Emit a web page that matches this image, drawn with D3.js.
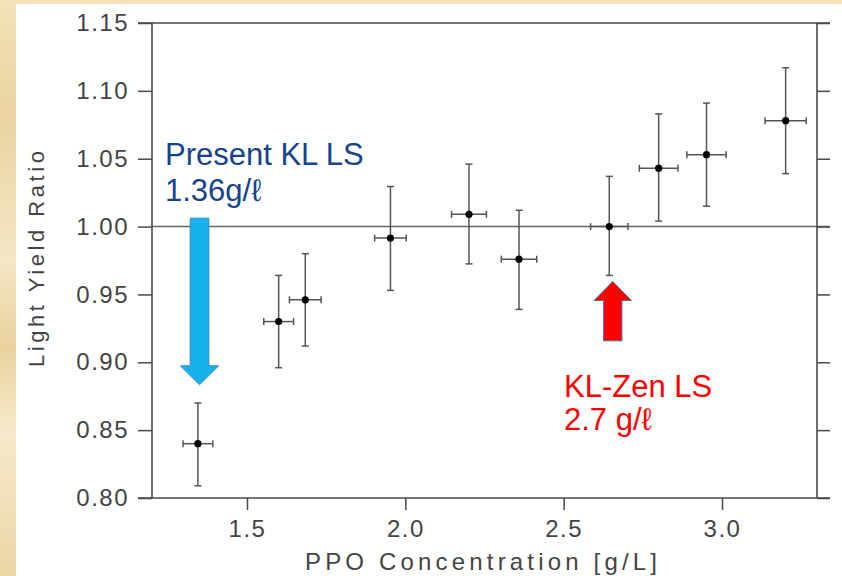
<!DOCTYPE html>
<html>
<head>
<meta charset="utf-8">
<script src="https://cdn.jsdelivr.net/npm/d3@7"></script>
<style>
  html, body { margin: 0; padding: 0; background: #efdcb0; }
  svg { display: block; }
</style>
</head>
<body>
<svg id="chart" width="842" height="576"></svg>
<script>
// ---------- data ----------
const ppo      = [1.345, 1.600, 1.684, 1.953, 2.201, 2.359, 2.644, 2.800, 2.951, 3.201];
const ratio    = [0.840, 0.930, 0.946, 0.9915, 1.009, 0.976, 1.000, 1.043, 1.053, 1.078];
const ratioHi  = [0.870, 0.964, 0.980, 1.0295, 1.046, 1.012, 1.037, 1.083, 1.091, 1.117];
const ratioLo  = [0.809, 0.896, 0.912, 0.953, 0.9725, 0.939, 0.964, 1.004, 1.015, 1.039];
const ppoErr   = [0.047, 0.047, 0.050, 0.050, 0.055, 0.056, 0.059, 0.061, 0.062, 0.065];
const yTicks   = [0.80, 0.85, 0.90, 0.95, 1.00, 1.05, 1.10, 1.15];
const xTicks   = [1.5, 2.0, 2.5, 3.0];
const refLine  = 1.00;
const xTitle   = "PPO Concentration [g/L]";
const yTitle   = "Light Yield Ratio";
const blueNote = ["Present KL LS", "1.36g/ℓ"];
const redNote  = ["KL-Zen LS", "2.7 g/ℓ"];
const blueArrow = {x: 1.35, top: 1.0062, headBase: 0.8974, tip: 0.8834};
const redArrow  = {x: 2.655, bottom: 0.9158, headBase: 0.9455, tip: 0.9595};

// ---------- layout ----------
const svg = d3.select("#chart");
const L = 152, R = 817, T = 23, B = 498;
const x = d3.scaleLinear().domain([1.2, 3.3]).range([L, R]);
const y = d3.scaleLinear().domain([0.80, 1.15]).range([B, T]);

// background
const defs = svg.append("defs");
const g1 = defs.append("linearGradient").attr("id", "parch").attr("x1", 0).attr("y1", 0).attr("x2", 0).attr("y2", 1);
[[0, "#f3e2b8"], [0.2, "#ead3a0"], [0.45, "#f4e6c6"], [0.6, "#e9d29d"], [0.75, "#f6e9cb"], [1, "#ecd6a6"]]
  .forEach(([o, c]) => g1.append("stop").attr("offset", o).attr("stop-color", c));
svg.append("rect").attr("width", 842).attr("height", 576).attr("fill", "url(#parch)");
svg.append("rect").attr("x", 16).attr("y", 4).attr("width", 826).attr("height", 572).attr("fill", "#ffffff");

const axisColor = "#4a4a4a";
const textColor = "#444444";
const fontAxis = "'Liberation Sans', Arial, sans-serif";

// reference line at 1.00
svg.append("line")
  .attr("x1", L).attr("x2", R + 13)
  .attr("y1", y(refLine)).attr("y2", y(refLine))
  .attr("stroke", "#666").attr("stroke-width", 1.6);

// axes
const styleAxis = (sel) => {
  sel.select(".domain").remove();
  sel.selectAll(".tick line").attr("stroke", axisColor).attr("stroke-width", 1.5);
  sel.selectAll(".tick text")
    .attr("fill", textColor)
    .style("font-family", fontAxis)
    .style("font-size", "24px")
    .style("letter-spacing", "1.5px");
};

svg.append("g").attr("transform", `translate(${L},0)`)
  .call(d3.axisLeft(y).tickValues(yTicks).tickSize(14).tickSizeOuter(0).tickPadding(9).tickFormat(d3.format(".2f")))
  .call(styleAxis);

svg.append("g").attr("transform", `translate(${R},0)`)
  .call(d3.axisRight(y).tickValues(yTicks).tickSize(13).tickSizeOuter(0).tickFormat(""))
  .call(styleAxis);

svg.append("g").attr("transform", `translate(0,${B})`)
  .call(d3.axisBottom(x).tickValues(xTicks).tickSize(12).tickSizeOuter(0).tickPadding(10).tickFormat(d3.format(".1f")))
  .call(styleAxis);

// frame
const frame = svg.append("g").attr("stroke", axisColor).attr("stroke-width", 1.6);
frame.append("line").attr("x1", L - 14).attr("x2", R + 13).attr("y1", T).attr("y2", T);
frame.append("line").attr("x1", L - 14).attr("x2", R + 13).attr("y1", B).attr("y2", B);
frame.append("line").attr("x1", L).attr("x2", L).attr("y1", T).attr("y2", B);
frame.append("line").attr("x1", R).attr("x2", R).attr("y1", T).attr("y2", B);

// axis titles
svg.append("text")
  .attr("x", 305).attr("y", 570)
  .attr("textLength", 352).attr("lengthAdjust", "spacing")
  .attr("fill", textColor)
  .style("font-family", fontAxis).style("font-size", "24px")
  .text(xTitle);

svg.append("text")
  .attr("transform", `translate(44,367) rotate(-90)`)
  .attr("textLength", 216).attr("lengthAdjust", "spacing")
  .attr("fill", textColor)
  .style("font-family", fontAxis).style("font-size", "22px")
  .text(yTitle);

// data with error bars
const data = ppo.map((v, i) => ({x: v, y: ratio[i], hi: ratioHi[i], lo: ratioLo[i], xe: ppoErr[i]}));
const eb = svg.append("g").attr("stroke", "#555").attr("stroke-width", 1.5).attr("fill", "none");
const cap = 3.5;
data.forEach(d => {
  const g = eb.append("g");
  g.append("line").attr("x1", x(d.x)).attr("x2", x(d.x)).attr("y1", y(d.hi)).attr("y2", y(d.lo));
  g.append("line").attr("x1", x(d.x) - cap).attr("x2", x(d.x) + cap).attr("y1", y(d.hi)).attr("y2", y(d.hi));
  g.append("line").attr("x1", x(d.x) - cap).attr("x2", x(d.x) + cap).attr("y1", y(d.lo)).attr("y2", y(d.lo));
  g.append("line").attr("x1", x(d.x - d.xe)).attr("x2", x(d.x + d.xe)).attr("y1", y(d.y)).attr("y2", y(d.y));
  g.append("line").attr("x1", x(d.x - d.xe)).attr("x2", x(d.x - d.xe)).attr("y1", y(d.y) - cap).attr("y2", y(d.y) + cap);
  g.append("line").attr("x1", x(d.x + d.xe)).attr("x2", x(d.x + d.xe)).attr("y1", y(d.y) - cap).attr("y2", y(d.y) + cap);
});
svg.append("g").selectAll("circle").data(data).join("circle")
  .attr("cx", d => x(d.x)).attr("cy", d => y(d.y)).attr("r", 3.6).attr("fill", "#000");

// arrows
function arrowPath(cx, tail, headBase, tip, shaftW, headW) {
  return d3.line()([
    [cx - shaftW / 2, tail], [cx + shaftW / 2, tail],
    [cx + shaftW / 2, headBase], [cx + headW / 2, headBase],
    [cx, tip],
    [cx - headW / 2, headBase], [cx - shaftW / 2, headBase]
  ]) + "Z";
}
svg.append("path")
  .attr("d", arrowPath(x(blueArrow.x), y(blueArrow.top), y(blueArrow.headBase), y(blueArrow.tip), 18.7, 38.4))
  .attr("fill", "#16b1ea").attr("stroke", "#2f8fc8").attr("stroke-width", 1);
svg.append("path")
  .attr("d", arrowPath(x(redArrow.x), y(redArrow.bottom), y(redArrow.headBase), y(redArrow.tip), 18.3, 37.4))
  .attr("fill", "#ff0000").attr("stroke", "#41719c").attr("stroke-width", 1);

// annotations
const noteFont = "'Liberation Sans', Arial, sans-serif";
const bt = svg.append("text").attr("fill", "#15438e").style("font-family", noteFont).style("font-size", "31px");
bt.append("tspan").attr("x", 165).attr("y", 165).text(blueNote[0]);
bt.append("tspan").attr("x", 165).attr("y", 201).text(blueNote[1]);
const rt = svg.append("text").attr("fill", "#ff0000").style("font-family", noteFont).style("font-size", "31px");
rt.append("tspan").attr("x", 564).attr("y", 397).text(redNote[0]);
rt.append("tspan").attr("x", 564).attr("y", 430).text(redNote[1]);
</script>
</body>
</html>
